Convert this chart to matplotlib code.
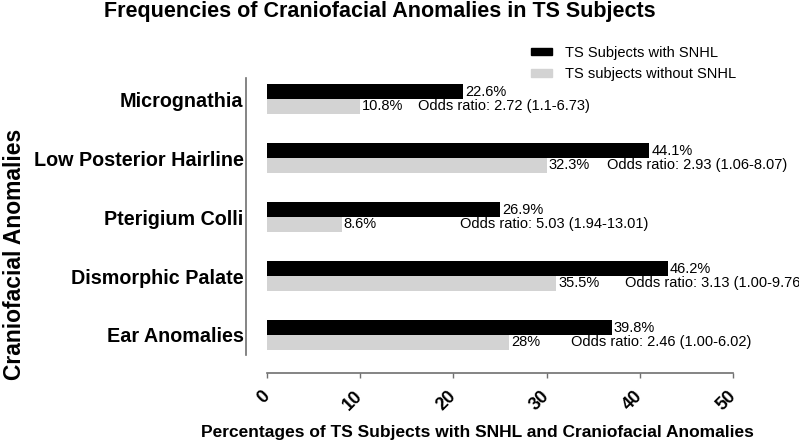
import numpy as np
import matplotlib.pyplot as plt
from matplotlib.patches import Patch

plt.rcParams['font.family'] = ['Liberation Sans', 'DejaVu Sans']

# Data (bar lengths) and the printed labels.
anomalies = ['Micrognathia', 'Low Posterior Hairline', 'Pterigium Colli',
             'Dismorphic Palate', 'Ear Anomalies']
with_snhl = [21, 41, 25, 43, 37]
without_snhl = [10, 30, 8, 31, 26]
with_labels = ['22.6%', '44.1%', '26.9%', '46.2%', '39.8%']
without_labels = ['10.8%', '32.3%', '8.6%', '35.5%', '28%']
odds_text = ['Odds ratio: 2.72 (1.1-6.73)',
             'Odds ratio: 2.93 (1.06-8.07)',
             'Odds ratio: 5.03 (1.94-13.01)',
             'Odds ratio: 3.13 (1.00-9.76)',
             'Odds ratio: 2.46 (1.00-6.02)']
# where each odds-ratio note starts (x, in % units)
odds_x = [16.2, 36.5, 20.7, 38.4, 32.6]
x_ticks = [0, 10, 20, 30, 40, 50]

black = '#000000'
grey = '#d3d3d3'
spine_col = '#707070'

fig = plt.figure(figsize=(7.99, 4.47), dpi=100)
ax = fig.add_axes([267 / 799, 1 - 355 / 447, 466 / 799, 277 / 447])

y = np.arange(len(anomalies))
h = 0.246
ax.barh(y - h / 2, with_snhl, height=h, color=black)
ax.barh(y + h / 2, without_snhl, height=h, color=grey)

for i in range(len(anomalies)):
    ax.annotate(with_labels[i], (with_snhl[i], y[i] - h / 2), xytext=(1.5, 0),
                textcoords='offset points', va='center', ha='left', fontsize=10.5)
    ax.annotate(without_labels[i], (without_snhl[i], y[i] + h / 2), xytext=(1.5, 0),
                textcoords='offset points', va='center', ha='left', fontsize=10.5)
    ax.text(odds_x[i], y[i] + h / 2, odds_text[i], va='center', ha='left',
            fontsize=10.5, clip_on=False)

ax.set_xlim(0, 50)
ax.set_ylim(4.339, -0.356)

for s in ['top', 'right']:
    ax.spines[s].set_visible(False)
ax.spines['left'].set_position(('outward', 15))
ax.spines['bottom'].set_position(('outward', 13))
for s in ['left', 'bottom']:
    ax.spines[s].set_color(spine_col)
    ax.spines[s].set_linewidth(1.2)

ax.set_yticks(y)
ax.set_yticklabels(anomalies, fontsize=14.2, fontweight='bold')
ax.tick_params(axis='y', length=0, pad=2)

ax.set_xticks(x_ticks)
ax.set_xticklabels([str(t) for t in x_ticks], fontsize=13, fontweight='bold',
                   rotation=45, ha='right', va='center', rotation_mode='anchor')
ax.tick_params(axis='x', length=3.5, width=1, color=spine_col, pad=11)

fig.text(380 / 799, 1 - 12 / 447, 'Frequencies of Craniofacial Anomalies in TS Subjects',
         ha='center', va='center', fontsize=15.5, fontweight='bold')
fig.text(477 / 799, 1 - 432 / 447,
         'Percentages of TS Subjects with SNHL and Craniofacial Anomalies',
         ha='center', va='center', fontsize=12.5, fontweight='bold')
fig.text(15 / 799, 1 - 254 / 447, 'Craniofacial Anomalies', rotation=90,
         ha='center', va='center', fontsize=16.5, fontweight='bold')

handles = [Patch(color=black, label='TS Subjects with SNHL'),
           Patch(color=grey, label='TS subjects without SNHL')]
fig.legend(handles=handles, loc='upper left', bbox_to_anchor=(531 / 799, 1 - 46 / 447),
           frameon=False, borderpad=0, borderaxespad=0, fontsize=10.5,
           handlelength=1.45, handleheight=0.4, handletextpad=0.85, labelspacing=0.5)

fig.savefig('out.png', dpi=100)
